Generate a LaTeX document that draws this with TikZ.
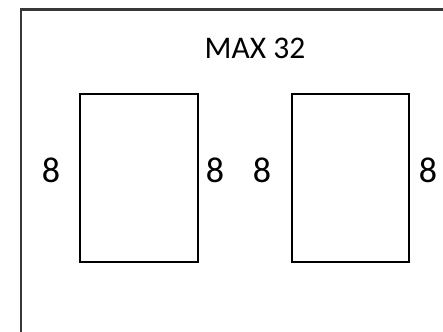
\documentclass[tikz,border=0pt]{standalone}
\usepackage{fontspec}
\setmainfont{Carlito}
\begin{document}
\begin{tikzpicture}[x=1pt,y=-1pt,
  frame/.style={draw=black!78,line width=2.2pt},
  slot/.style={draw=black,line width=2pt},
  num/.style={inner sep=0pt,font=\fontsize{36}{40}\selectfont},
  title/.style={inner sep=0pt,font=\fontsize{31.5}{36}\selectfont}]
\useasboundingbox (0,0) rectangle (443,331);
\draw[frame] (20.8,340) -- (20.8,9.6) -- (450,9.6);
\node[title] (t) at (255,48.6) {MAX 32};
\draw[slot] (79.7,93.7) rectangle (198.2,262.2);
\draw[slot] (291.7,93.7) rectangle (409.3,262.2);
\node[num] (a1) at (51,170) {8};
\node[num] (a2) at (215,170) {8};
\node[num] (b1) at (262,170) {8};
\node[num] (b2) at (428,170) {8};
\end{tikzpicture}
\end{document}
